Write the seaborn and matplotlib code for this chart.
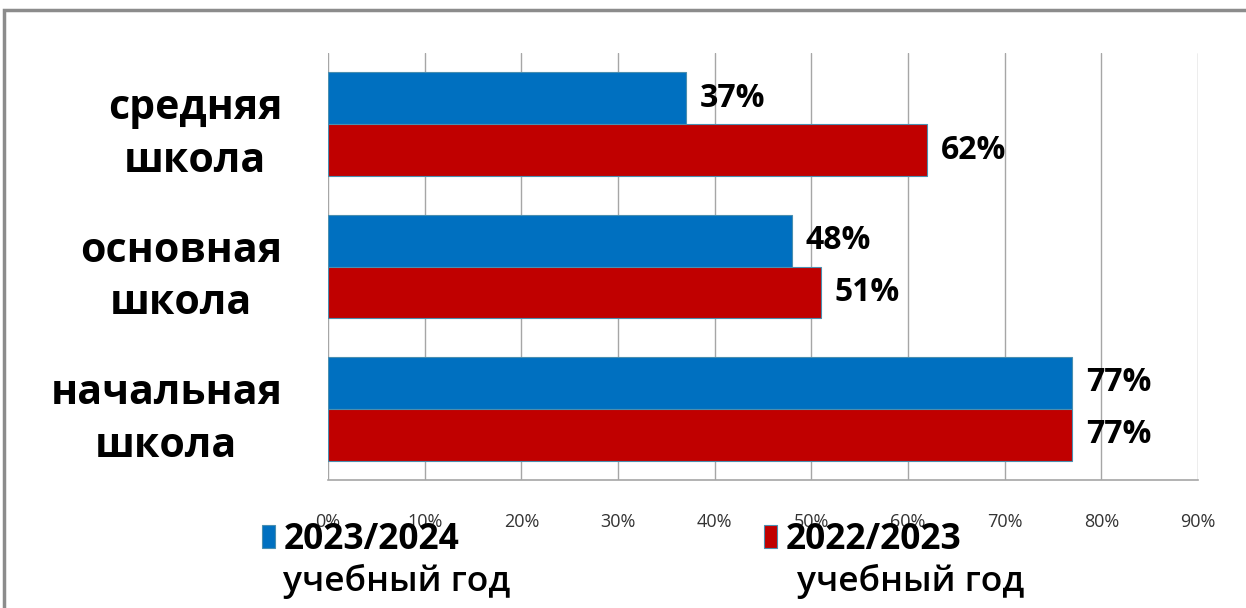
import pandas as pd
import seaborn as sns
import matplotlib.pyplot as plt
from matplotlib.patches import Rectangle

# ---- data ----
levels = ["средняя\nшкола", "основная\nшкола", "начальная\nшкола"]
years = ["2023/2024", "2022/2023"]
share_2023_24 = [37, 48, 77]
share_2022_23 = [62, 51, 77]
x_ticks = [0, 10, 20, 30, 40, 50, 60, 70, 80, 90]
colors = ["#0070C0", "#C00000"]

df = pd.DataFrame({
    "level": levels * 2,
    "year": [years[0]] * 3 + [years[1]] * 3,
    "value": share_2023_24 + share_2022_23,
})

sns.set_style("white")
plt.rcParams["font.family"] = ["Open Sans", "DejaVu Sans"]
plt.rcParams["text.color"] = "black"

fig = plt.figure(figsize=(12.46, 6.08), dpi=100)
ax = fig.add_axes([328 / 1246, 1 - 480 / 608, 870 / 1246, 427 / 608])

sns.barplot(data=df, y="level", x="value", hue="year", order=levels,
            hue_order=years, palette=colors, saturation=1, orient="h",
            width=0.73, edgecolor="#4A8FB0", linewidth=0.8, ax=ax,
            legend=True)

# value labels
for cont in ax.containers:
    ax.bar_label(cont, labels=[f"{v:.0f}%" for v in cont.datavalues],
                 padding=10, fontsize=23, fontweight="bold", color="black")

ax.set_xlim(0, 90)
ax.set_ylim(2.5, -0.5)
ax.set_xticks(x_ticks)
ax.set_xticklabels([f"{t}%" for t in x_ticks], fontsize=13, color="#333333")
ax.tick_params(axis="x", length=0, pad=24)
ax.tick_params(axis="y", length=0, pad=33)
for lab in ax.get_yticklabels():
    lab.set_fontsize(29.5)
    lab.set_fontweight("bold")
    lab.set_color("black")
    lab.set_multialignment("center")
    lab.set_linespacing(1.38)
ax.set_xlabel("")
ax.set_ylabel("")
ax.grid(axis="x", color="#A6A6A6", linewidth=1)
ax.set_axisbelow(True)
for s in ["top", "right", "left"]:
    ax.spines[s].set_visible(False)
ax.spines["bottom"].set_color("#A6A6A6")
ax.spines["bottom"].set_linewidth(1.2)

# legend at the bottom
handles, labels = ax.get_legend_handles_labels()
leg = ax.legend(handles, labels, ncol=2, loc="upper left",
                bbox_to_anchor=(262 / 1246, 1 - 522 / 608),
                bbox_transform=fig.transFigure, frameon=False,
                prop={"size": 25.5, "weight": "bold"}, handlelength=0.36,
                handleheight=0.6, handletextpad=0.25, columnspacing=8.6,
                borderpad=0, borderaxespad=0)
for t in leg.get_texts():
    t.set_color("black")
fig.text(283 / 1246, 1 - 581 / 608, "учебный год", fontsize=25.5,
         fontweight="semibold", va="center", ha="left", color="black")
fig.text(797 / 1246, 1 - 581 / 608, "учебный год", fontsize=25.5,
         fontweight="semibold", va="center", ha="left", color="black")

# outer frame
fig.patches.append(Rectangle((4 / 1246, -0.2), 1.2, 1.2 - 10 / 608,
                             transform=fig.transFigure, fill=False,
                             edgecolor="#8C8C8C", linewidth=2.5))

fig.savefig("out.png", dpi=100, facecolor="white")
